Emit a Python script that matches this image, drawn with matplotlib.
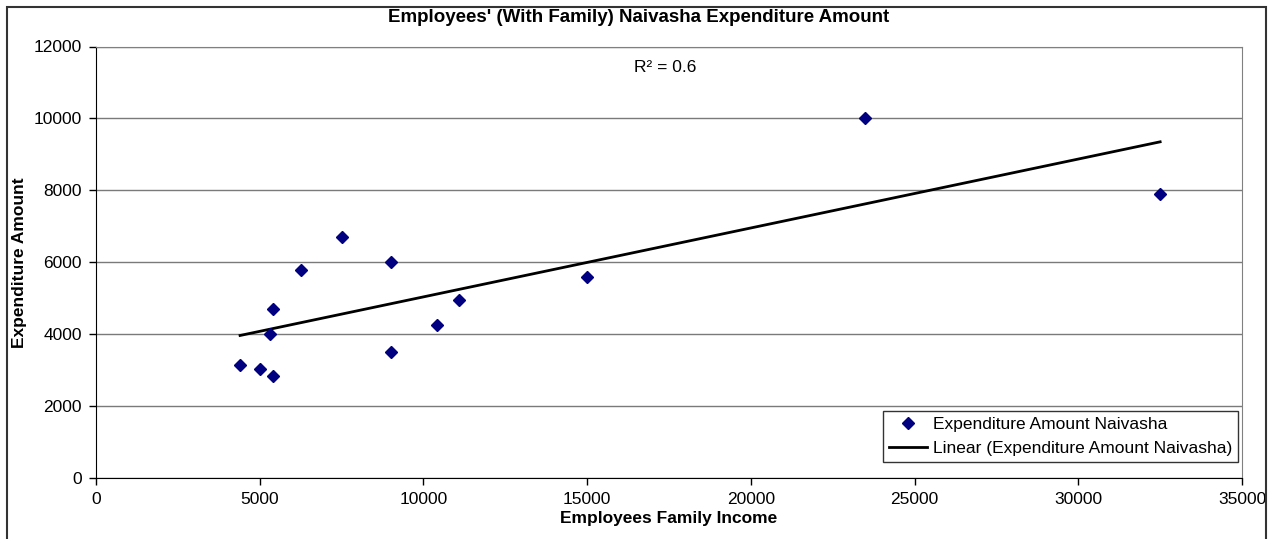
import numpy as np
import matplotlib
matplotlib.use("Agg")
import matplotlib.pyplot as plt
from matplotlib.patches import Rectangle

plt.rcParams["font.family"] = ["Liberation Sans", "DejaVu Sans"]

# Family income vs. expenditure, Naivasha employees with family
income = [4400, 5000, 5400, 5300, 5400, 6250, 7500, 9000, 9000, 10400, 11100, 15000, 23500, 32500]
expenditure = [3150, 3050, 2850, 4000, 4700, 5800, 6700, 6000, 3500, 4250, 4950, 5600, 10000, 7900]

x_ticks = [0, 5000, 10000, 15000, 20000, 25000, 30000, 35000]
y_ticks = [0, 2000, 4000, 6000, 8000, 10000, 12000]

x = np.array(income, dtype=float)
y = np.array(expenditure, dtype=float)

# least squares trend line
slope, intercept = np.polyfit(x, y, 1)
fit = slope * x + intercept
r2 = 1 - np.sum((y - fit) ** 2) / np.sum((y - y.mean()) ** 2)
xl = np.array([x.min(), x.max()])

W, H = 1278, 539
fig = plt.figure(figsize=(W / 100, H / 100), dpi=100)
ax = fig.add_axes([96 / W, (H - 478.3) / H, (1242 - 96) / W, (478.3 - 46.5) / H])

ax.set_xlim(0, 35000)
ax.set_ylim(0, 12000)
ax.set_xticks(x_ticks)
ax.set_yticks(y_ticks)
ax.yaxis.grid(True, color="#7a7a7a", linewidth=1)
ax.set_axisbelow(True)

ax.plot(x, y, linestyle="none", marker="D", markersize=6.5, color="#000080",
        label="Expenditure Amount Naivasha", zorder=3)
ax.plot(xl, slope * xl + intercept, color="black", linewidth=2,
        label="Linear (Expenditure Amount Naivasha)", zorder=2)

ax.text(0.497, 0.952, "R\u00b2 = %.1f" % r2, transform=ax.transAxes,
        ha="center", va="center", fontsize=12.5)

for side in ["top", "right"]:
    ax.spines[side].set_color("#808080")
for side in ["left", "bottom"]:
    ax.spines[side].set_color("black")
ax.tick_params(direction="out", length=5, width=1, labelsize=12.5, pad=5)

ax.set_xlabel("Employees Family Income", fontsize=12.5, fontweight="bold", labelpad=3)
ax.set_ylabel("Expenditure Amount", fontsize=12.5, fontweight="bold", labelpad=5)

leg = ax.legend(loc="lower right", bbox_to_anchor=(0.9965, 0.038), borderaxespad=0,
                fontsize=12.5, frameon=True, fancybox=False, handlelength=2.2,
                handletextpad=0.3, borderpad=0.35, labelspacing=0.5)
leg.get_frame().set_edgecolor("black")
leg.get_frame().set_linewidth(1)

fig.text(639 / W, 1 - 18 / H, "Employees' (With Family) Naivasha Expenditure Amount",
         ha="center", va="center", fontsize=13.5, fontweight="bold")

# chart border
fig.patches.append(Rectangle((6.5 / W, -0.1), (1266 - 6.5) / W, 1.1 - 7 / H,
                             transform=fig.transFigure, fill=False,
                             edgecolor="#333333", linewidth=1.5))

fig.savefig("out.png", dpi=100)
